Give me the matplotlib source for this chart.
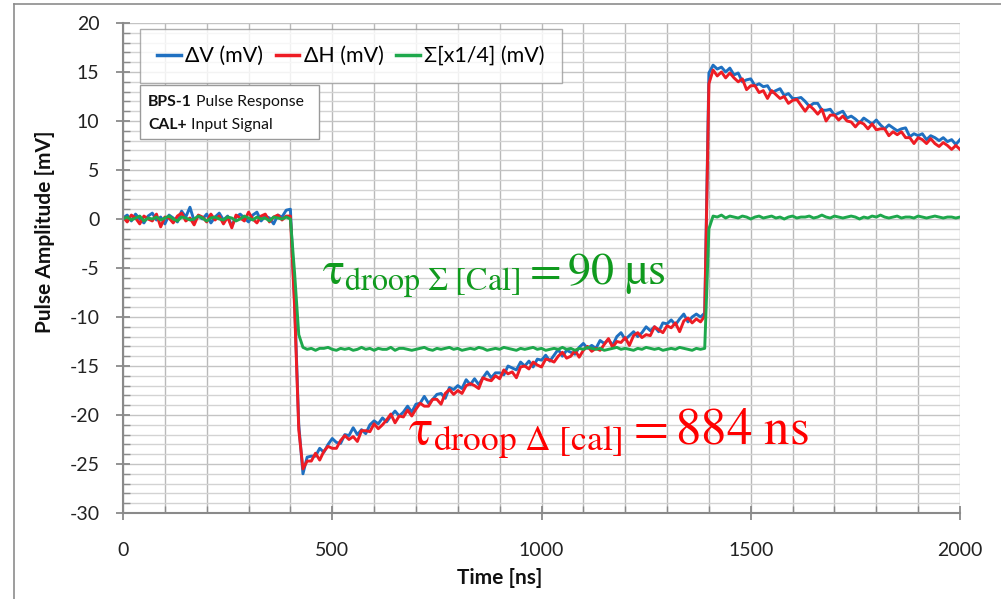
import numpy as np
import matplotlib
matplotlib.use("Agg")
import matplotlib.pyplot as plt
from matplotlib.lines import Line2D
from matplotlib.ticker import MultipleLocator

# ---------------- data (10 ns sampling) ----------------
time_ns = np.arange(0, 2001, 10)

dv_base = [0.1, 0.4, -0.2, 0.5, 0.0, -0.4, 0.3, 0.6, -0.1, 0.2, -0.5, 0.4, 0.1, -0.3, 0.8, 0.2,
           1.2, -0.2, 0.3, 0.0, 0.5, -0.4, 0.2, 0.6, -0.1, 0.3, -0.7, 0.2, 0.5, 0.1, -0.3, 0.4,
           0.7, -0.2, 0.3, 0.1, -0.5, 0.4, 0.2, 0.9]
dv_edge = [1.0, -8.5, -21.0]
dv_droop = [-26.0, -24.3, -24.2, -24.2, -23.4, -23.8, -23.0, -22.4, -22.8, -22.9,
            -22.0, -22.1, -21.3, -22.0, -21.5, -21.9, -21.0, -20.6, -20.9, -20.3,
            -20.7, -20.1, -19.6, -20.1, -19.7, -19.1, -19.7, -18.9, -18.8, -18.1,
            -18.8, -18.4, -17.9, -17.8, -18.3, -17.2, -17.4, -17.0, -17.3, -16.4,
            -16.9, -16.3, -16.9, -16.2, -15.6, -16.2, -15.7, -15.7, -15.9, -15.0,
            -15.2, -15.4, -14.6, -15.0, -14.5, -15.1, -14.3, -14.4, -13.9, -14.5,
            -13.9, -13.3, -14.0, -13.4, -13.6, -13.8, -13.1, -12.7, -13.2, -12.9,
            -13.2, -12.4, -12.7, -12.3, -12.9, -12.0, -11.6, -12.3, -11.9, -11.5,
            -12.0, -11.6, -11.0, -11.4, -11.0, -11.5, -10.6, -10.7, -10.3, -10.8,
            -10.2, -9.7, -10.5, -10.0, -9.7, -10.0, -9.6]
dv_after = [14.9, 15.7, 15.3, 15.5, 15.0, 15.4, 14.7, 14.9, 14.0, 14.2, 14.3, 13.6, 13.8,
            13.5, 13.6, 12.9, 13.1, 13.3, 12.6, 12.8, 12.3, 12.3, 12.4, 12.0, 11.5, 11.8,
            11.8, 11.1, 11.1, 11.2, 10.6, 10.8, 11.0, 10.3, 10.5, 10.2, 9.8, 10.3, 10.0,
            9.7, 10.1, 9.6, 9.2, 9.6, 9.3, 9.0, 9.2, 9.3, 8.4, 8.7, 8.5, 8.7, 8.1, 8.5,
            8.3, 8.0, 8.3, 7.9, 8.1, 7.6, 8.1]

dh_base = [0.2, -0.3, 0.4, 0.1, -0.5, 0.3, 0.0, -0.2, 0.5, -0.8, 0.2, 0.1, -0.4, 0.3, 0.6, -0.2,
           0.1, -0.6, 0.4, 0.2, -0.3, 0.5, -0.1, 0.3, -0.5, 0.2, -0.9, 0.4, 0.1, -0.2, 0.7, 0.0,
           -0.4, 0.3, 0.5, -0.3, 0.2, 0.4, -0.1, 0.3]
dh_edge = [0.3, -9.0, -21.5]
dh_droop = [-25.5, -24.7, -24.7, -23.9, -24.6, -23.7, -23.2, -23.4, -23.4, -22.6,
            -22.1, -22.5, -22.2, -22.7, -21.6, -21.6, -21.7, -20.9, -21.4, -21.0,
            -20.5, -19.9, -20.8, -20.1, -20.2, -19.5, -20.1, -19.4, -18.8, -19.1,
            -19.1, -18.4, -18.4, -18.9, -17.8, -17.4, -17.9, -17.5, -17.8, -17.0,
            -16.8, -17.0, -17.3, -16.2, -16.4, -16.5, -16.0, -16.3, -15.4, -15.8,
            -15.6, -16.2, -15.1, -15.0, -15.3, -14.6, -14.9, -15.1, -14.3, -14.4,
            -14.6, -14.0, -13.6, -14.2, -14.0, -13.4, -14.1, -13.4, -13.0, -13.5,
            -13.2, -13.4, -12.8, -12.2, -13.1, -12.5, -12.6, -12.1, -12.9, -11.9,
            -11.6, -12.1, -11.8, -11.9, -11.0, -11.3, -11.6, -10.9, -11.1, -10.6,
            -11.5, -10.4, -10.1, -10.6, -10.2, -10.5, -9.9]
dh_after = [13.8, 15.2, 14.6, 15.0, 14.4, 14.9, 14.4, 14.0, 14.3, 13.2, 13.6, 13.6, 12.9,
            13.1, 12.3, 13.1, 12.7, 12.3, 12.5, 11.8, 12.1, 12.2, 11.6, 11.0, 11.6, 11.2,
            10.7, 11.2, 10.0, 10.6, 10.6, 10.1, 10.5, 10.0, 9.9, 9.4, 9.9, 9.7, 9.2, 9.7,
            9.1, 9.2, 9.2, 8.5, 8.9, 8.6, 8.9, 8.3, 8.3, 7.7, 8.3, 8.1, 7.7, 8.2, 7.7, 7.4,
            7.8, 7.5, 7.1, 7.5, 7.1]

sum_base = [0.0, 0.2, -0.1, 0.1, 0.3, -0.2, 0.1, 0.0, 0.2, -0.1, 0.1, 0.3, 0.0, -0.2, 0.2, 0.1,
            -0.1, 0.0, 0.3, 0.1, -0.2, 0.1, 0.2, 0.0, -0.1, 0.2, 0.1, -0.2, 0.0, 0.3, 0.1, -0.1,
            0.2, 0.0, 0.1, -0.2, 0.2, 0.1, 0.0, 0.2]
sum_edge = [0.0, -5.5, -11.8]
sum_droop = [-13.1, -13.3, -13.2, -13.4, -13.2, -13.2, -13.1, -13.3, -13.4, -13.2,
             -13.3, -13.2, -13.4, -13.3, -13.1, -13.3, -13.2, -13.4, -13.2, -13.3,
             -13.3, -13.1, -13.4, -13.2, -13.2, -13.3, -13.4, -13.3, -13.2, -13.1,
             -13.3, -13.4, -13.2, -13.3, -13.2, -13.1, -13.3, -13.2, -13.4, -13.3,
             -13.2, -13.3, -13.1, -13.2, -13.4, -13.3, -13.2, -13.3, -13.1, -13.2,
             -13.3, -13.4, -13.2, -13.3, -13.2, -13.1, -13.3, -13.2, -13.4, -13.3,
             -13.2, -13.3, -13.1, -13.3, -13.2, -13.4, -13.2, -13.3, -13.1, -13.2,
             -13.3, -13.2, -13.4, -13.3, -13.2, -13.1, -13.3, -13.2, -13.3, -13.4,
             -13.2, -13.3, -13.1, -13.2, -13.3, -13.2, -13.4, -13.3, -13.2, -13.3,
             -13.1, -13.2, -13.3, -13.4, -13.2, -13.3, -13.2]
sum_after = [-1.0, 0.3, 0.2, 0.4, 0.1, 0.3, 0.2, 0.1, 0.3, 0.2, 0.0, 0.2, 0.3, 0.1, 0.2, 0.3,
             0.1, 0.2, 0.0, 0.2, 0.3, 0.1, 0.2, 0.2, 0.3, 0.1, 0.2, 0.4, 0.2, 0.1, 0.3, 0.2,
             0.1, 0.2, 0.3, 0.2, 0.0, 0.2, 0.1, 0.3, 0.2, 0.4, 0.2, 0.1, 0.2, 0.3, 0.1, 0.2,
             0.2, 0.1, 0.3, 0.2, 0.1, 0.2, 0.3, 0.2, 0.1, 0.2, 0.2, 0.1, 0.2]

delta_v = np.array(dv_base + dv_edge + dv_droop + dv_after)
delta_h = np.array(dh_base + dh_edge + dh_droop + dh_after)
sigma_q = np.array(sum_base + sum_edge + sum_droop + sum_after)

series_labels = ["ΔV (mV)", "ΔH (mV)", "Σ[x1/4] (mV)"]
series_colors = ["#1f70c1", "#ee1c24", "#1ea84c"]
x_ticks = [0, 500, 1000, 1500, 2000]
y_ticks = [-30, -25, -20, -15, -10, -5, 0, 5, 10, 15, 20]

# ---------------- figure ----------------
plt.rcParams['font.family'] = ['Lato', 'DejaVu Sans']
plt.rcParams['mathtext.fontset'] = 'stix'
plt.rcParams['axes.unicode_minus'] = False

fig = plt.figure(figsize=(10.01, 5.99), dpi=100)
ax = fig.add_axes([123 / 1001, 1 - 513 / 599, (960 - 123) / 1001, (513 - 23) / 599])

ax.set_xlim(0, 2000)
ax.set_ylim(-30, 20)
ax.set_xticks(x_ticks)
ax.set_yticks(y_ticks)
ax.xaxis.set_minor_locator(MultipleLocator(100))
ax.yaxis.set_minor_locator(MultipleLocator(1))

ax.grid(True, which='minor', axis='x', color='#b9b9b9', lw=1.0)
ax.grid(True, which='major', axis='x', color='#b9b9b9', lw=1.0)
ax.grid(True, which='minor', axis='y', color='#d3d3d3', lw=1.0)
ax.grid(True, which='major', axis='y', color='#c4c4c4', lw=1.0)
ax.set_axisbelow(True)

for s in ['top', 'right']:
    ax.spines[s].set_visible(False)
for s in ['left', 'bottom']:
    ax.spines[s].set_color('#8a8a8a')
    ax.spines[s].set_linewidth(1.5)

ax.tick_params(which='major', direction='inout', length=10, width=1.3, color='#8a8a8a',
               labelsize=14, labelcolor='#222222')
ax.tick_params(which='minor', direction='in', length=5, width=1.0, color='#8a8a8a')
ax.tick_params(axis='y', which='major', pad=12)
ax.tick_params(axis='x', which='major', pad=16)

for y, lab, col in zip([delta_v, delta_h, sigma_q], series_labels, series_colors):
    ax.plot(time_ns, y, color=col, lw=2.1, label=lab, solid_joinstyle='round')

leg = ax.legend(loc='upper left', bbox_to_anchor=((140 - 123) / 837, 1 - (29 - 23) / 490),
                ncol=3, fontsize=15.4, frameon=True, fancybox=False, handlelength=1.1,
                handletextpad=0.2, columnspacing=0.6, borderpad=0.8, borderaxespad=0)
leg.get_frame().set_edgecolor('#9a9a9a')
leg.get_frame().set_linewidth(1.0)
for h in leg.get_lines():
    h.set_linewidth(2.5)

# info box
ax.add_patch(plt.Rectangle(((140 - 123) / 837, 1 - (139 - 23) / 490), (319 - 140) / 837,
                           (139 - 85) / 490, transform=ax.transAxes, facecolor='white',
                           edgecolor='#9a9a9a', lw=1.0, zorder=4))
t1 = ax.text((148 - 123) / 837, 1 - (106 - 23) / 490, "BPS-1", transform=ax.transAxes,
             fontsize=11.3, fontweight='bold', color='#111111', va='baseline', zorder=5)
ax.annotate(" Pulse Response", xy=(1, 0), xycoords=t1, va='bottom', ha='left',
            fontsize=11.3, color='#111111', zorder=5)
t2 = ax.text((148 - 123) / 837, 1 - (129 - 23) / 490, "CAL+", transform=ax.transAxes,
             fontsize=11.3, fontweight='bold', color='#111111', va='baseline', zorder=5)
ax.annotate(" Input Signal", xy=(1, 0), xycoords=t2, va='bottom', ha='left',
            fontsize=11.3, color='#111111', zorder=5)

# annotations
ax.text(475, -6.6, r'$\mathrm{τ}_{\mathrm{droop}\ \Sigma\ [\mathrm{Cal}]} = 90\ \mathrm{µs}$',
        color='#109a1e', fontsize=33, va='baseline', ha='left', zorder=6)
ax.text(681, -23.1, r'$\mathrm{τ}_{\mathrm{droop}\ \Delta\ [\mathrm{cal}]} = 884\ \mathrm{ns}$',
        color='#ff0000', fontsize=36.5, va='baseline', ha='left', zorder=6)

# axis labels
fig.text(45 / 1001, 1 - 232 / 599, "Pulse Amplitude [mV]", rotation=90, fontsize=15,
         fontweight='bold', ha='center', va='center', color='#111111')
fig.text(500 / 1001, 1 - 578 / 599, "Time [ns]", fontsize=15, fontweight='bold',
         ha='center', va='center', color='#111111')

# outer chart frame
fig.add_artist(Line2D([14 / 1001, 14 / 1001], [0, 1 - 4 / 599], color='#8c8c8c', lw=1.2))
fig.add_artist(Line2D([14 / 1001, 1], [1 - 4 / 599, 1 - 4 / 599], color='#8c8c8c', lw=1.2))

fig.savefig("out.png", dpi=100)
